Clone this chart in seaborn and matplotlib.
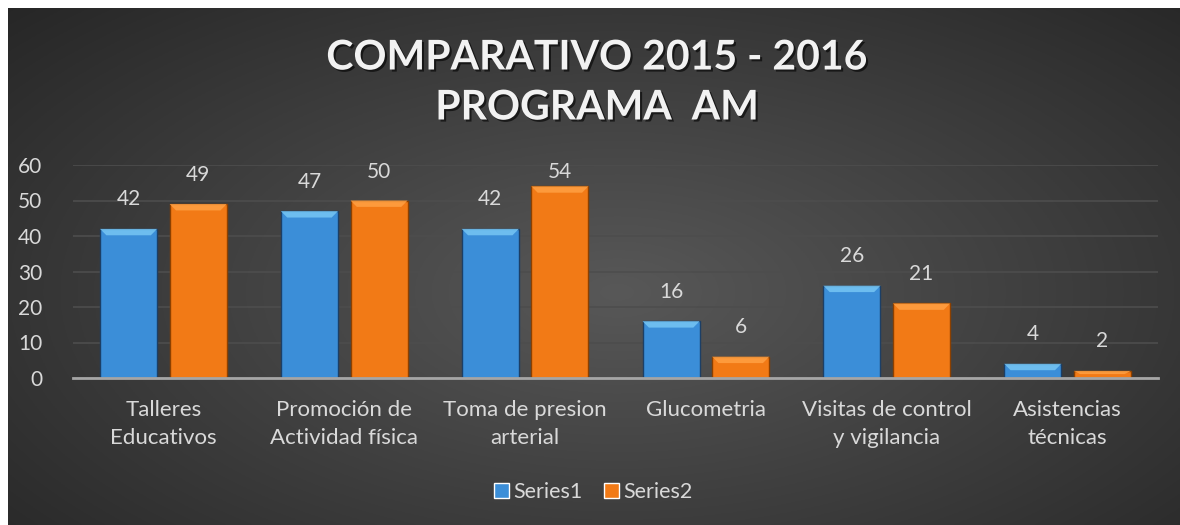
import numpy as np
import pandas as pd
import matplotlib
matplotlib.use("Agg")
import matplotlib.pyplot as plt
import matplotlib.patheffects as pe
from matplotlib.patches import Polygon
import seaborn as sns

categories = ["Talleres\nEducativos", "Promoción de\nActividad física", "Toma de presion\narterial",
              "Glucometria", "Visitas de control\ny vigilancia", "Asistencias\ntécnicas"]
series1 = [42, 47, 42, 16, 26, 4]
series2 = [49, 50, 54, 6, 21, 2]
series_names = ["Series1", "Series2"]
yticks = [0, 10, 20, 30, 40, 50, 60]
title_lines = ["COMPARATIVO 2015 - 2016", "PROGRAMA  AM"]

df = pd.DataFrame({
    "cat": categories * 2,
    "val": series1 + series2,
    "serie": [series_names[0]] * len(categories) + [series_names[1]] * len(categories),
})

sns.set_theme(style="dark")
plt.rcParams["font.family"] = ["Lato", "DejaVu Sans"]

W, H = 1180, 525
fig = plt.figure(figsize=(W / 100, H / 100), dpi=100)
fig.patch.set_facecolor("white")

# background with radial gradient
bg = fig.add_axes([8 / W, 0, (W - 8) / W, (H - 8) / H])
bg.set_axis_off()
yy, xx = np.mgrid[0:1:300j, 0:1:600j]
r = np.sqrt(((xx - 0.52) / 0.75) ** 2 + ((yy - 0.45) / 0.85) ** 2)
r = np.clip(r, 0, 1)
c0 = np.array([0x58, 0x58, 0x58]) / 255
c1 = np.array([0x24, 0x24, 0x24]) / 255
img = c0[None, None, :] * (1 - r[..., None]) + c1[None, None, :] * r[..., None]
bg.imshow(img, aspect="auto", extent=[0, 1, 0, 1], origin="lower")
bg.set_xlim(0, 1)
bg.set_ylim(0, 1)

ax = fig.add_axes([73 / W, 1 - 378 / H, 1085 / W, 213 / H])
ax.set_facecolor("none")
palette = {"Series1": "#3b8ed8", "Series2": "#f27a16"}
sns.barplot(data=df, x="cat", y="val", hue="serie", palette=palette, width=0.77, gap=0.18,
            ax=ax, legend=True, saturation=1, zorder=3)

ax.set_ylim(0, 60)
ax.set_yticks(yticks)
ax.set_xticks(range(len(categories)))
ax.set_xticklabels(categories, linespacing=1.5)
ax.set_xlabel("")
ax.set_ylabel("")
for s in ["top", "right", "left"]:
    ax.spines[s].set_visible(False)
ax.spines["bottom"].set_color("#a6a6a6")
ax.spines["bottom"].set_linewidth(2)
ax.spines["bottom"].set_zorder(5)
ax.grid(axis="y", color="#4d4d4d", linewidth=1.2)
ax.grid(axis="x", visible=False)
ax.set_axisbelow(True)
ax.tick_params(axis="both", length=0, colors="#d9d9d9")
ax.tick_params(axis="y", pad=22, labelsize=15)
ax.tick_params(axis="x", pad=16, labelsize=16)

edge = {"Series1": "#1c3f66", "Series2": "#8c4000"}
bevel = {"Series1": "#76c6f4", "Series2": "#ffa043"}
pad_pt = 14
for cont, name in zip(ax.containers, series_names):
    for p in cont.patches:
        p.set_edgecolor(edge[name])
        p.set_linewidth(1.0)
        x0, w, h = p.get_x(), p.get_width(), p.get_height()
        bh = min(1.8, h * 0.45)
        d = 0.035
        poly = Polygon([(x0, h), (x0 + w, h), (x0 + w - d, h - bh), (x0 + d, h - bh)],
                       closed=True, facecolor=bevel[name], edgecolor="none", alpha=0.85, zorder=4)
        ax.add_patch(poly)
    anns = ax.bar_label(cont, padding=pad_pt, color="#d9d9d9", fontsize=15)
    # keep labels inside the plot area (like the original): clamp near the top
    px_per_unit = 213 / 60
    for a, p in zip(anns, cont.patches):
        top_px = p.get_height() * px_per_unit + pad_pt * 100 / 72 + 14
        limit = 203 + 7
        if top_px > limit:
            a.xyann = (0, pad_pt - (top_px - limit) * 72 / 100)

leg = ax.legend(loc="center", bbox_to_anchor=(593 / W, 1 - 492 / H), bbox_transform=fig.transFigure,
                ncol=2, frameon=False, fontsize=15.5, handlelength=0.7, handleheight=0.7,
                handletextpad=0.2, columnspacing=1.0, labelcolor="#d9d9d9")

shadow = [pe.withSimplePatchShadow(offset=(1.5, -1.5), shadow_rgbFace="black", alpha=0.6)]
for ypix, line in zip([58, 108], title_lines):
    fig.text(597 / W, 1 - ypix / H, line, ha="center", va="center", fontsize=29.5,
             fontweight="bold", color="#f2f2f2", path_effects=shadow)

fig.savefig("out.png", dpi=100)
